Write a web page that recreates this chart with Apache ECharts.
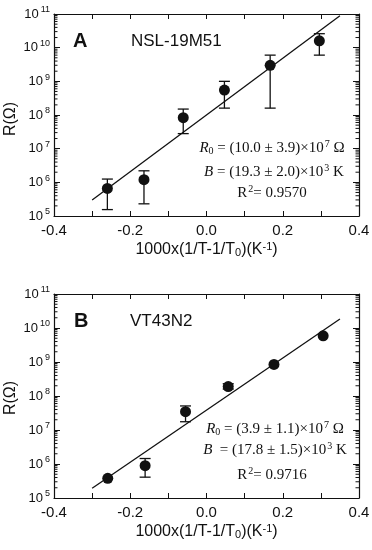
<!DOCTYPE html>
<html>
<head>
<meta charset="utf-8">
<script src="https://cdn.jsdelivr.net/npm/echarts@6/dist/echarts.min.js"></script>
<style>
html,body{margin:0;padding:0;background:#fff;}
#chart{width:372px;height:550px;}
</style>
</head>
<body>
<div id="chart"></div>
<script>
// ---- Data ----
const xA    = [-0.260, -0.164, -0.061, 0.047, 0.167, 0.296];
const rA    = [6.6e5, 1.2e6, 8.3e7, 5.5e8, 3.0e9, 1.6e10];
const lowA  = [1.55e5, 2.3e5, 2.8e7, 1.6e8, 1.6e8, 6.0e9];
const highA = [1.25e6, 2.2e6, 1.5e8, 1.0e9, 6.0e9, 2.6e10];
const fitAx = [-0.30, 0.35];
const fitAr = [3.0e5, 8.9e10];

const xB    = [-0.259, -0.161, -0.055, 0.057, 0.177, 0.306];
const rB    = [3.8e5, 8.9e5, 3.45e7, 1.9e8, 8.5e8, 5.9e9];
const lowB  = [null, 4.1e5, 1.75e7, 1.6e8, null, null];
const highB = [null, 1.45e6, 5.1e7, 2.3e8, null, null];
const fitBx = [-0.30, 0.35];
const fitBr = [1.94e5, 1.84e10];

const xTickLabels = ['-0.4', '-0.2', '0.0', '0.2', '0.4'];
const yExponents = [5, 6, 7, 8, 9, 10, 11];

// ---- Helpers ----
const SANS = 'Liberation Sans, Arial, sans-serif';
const SERIF = 'Liberation Serif, Times New Roman, serif';
const INK = '#111';

// minor log tick values (2..9 × 10^n) for the y axes
const minorLogValues = [];
for (let n = 5; n < 11; n++) for (let k = 2; k <= 9; k++) minorLogValues.push(k * Math.pow(10, n));

function xAxes(grid) {
  const base = {
    type: 'value', gridIndex: grid, min: -0.4, max: 0.4, interval: 0.2,
    axisLine: {show: true, onZero: false, lineStyle: {color: INK, width: 1.2}},
    axisTick: {show: true, inside: true, length: 5, lineStyle: {color: INK}},
    minorTick: {show: true, splitNumber: 2, length: 5, lineStyle: {color: INK}},
    splitLine: {show: false}, minorSplitLine: {show: false}
  };
  return [
    Object.assign({}, base, {
      position: 'bottom',
      axisLabel: {show: true, margin: 7, fontFamily: SANS, fontSize: 15, color: INK,
        formatter: v => xTickLabels[Math.round((v + 0.4) / 0.2)]},
      name: '1000x(1/T-1/T{sub|0})(K{sup|-1})',
      nameLocation: 'middle', nameGap: 25,
      nameTextStyle: {fontFamily: SANS, fontSize: 16, color: INK,
        rich: {sub: {fontFamily: SANS, fontSize: 11, color: INK, padding: [6, 0, 0, 0]},
               sup: {fontFamily: SANS, fontSize: 11, color: INK, padding: [0, 0, 7, 0]}}}
    }),
    Object.assign({}, base, {position: 'top', axisLabel: {show: false}})
  ];
}

function yAxes(grid) {
  const lineStyle = {color: INK, width: 1.2};
  const logBase = {
    type: 'log', logBase: 10, gridIndex: grid, min: 1e5, max: 1e11,
    splitLine: {show: false}, axisLine: {show: true, onZero: false, lineStyle},
    axisTick: {show: true, inside: true, length: 6, lineStyle: {color: INK}}
  };
  return [
    Object.assign({}, logBase, {
      position: 'left',
      axisLabel: {show: true, margin: 4, color: INK,
        formatter: v => '{b|10}{s|' + yExponents[Math.round(Math.log10(v)) - 5] + '}',
        rich: {b: {fontFamily: SANS, fontSize: 13, color: INK},
               s: {fontFamily: SANS, fontSize: 9, color: INK, padding: [0, 0, 8, 2]}}}
    }),
    Object.assign({}, logBase, {position: 'right', axisLabel: {show: false}})
  ];
}

// minor log ticks drawn at both grid edges through the axis scale
function minorTickSeries(xi, yi) {
  return {
    type: 'custom', xAxisIndex: xi, yAxisIndex: yi, z: 5, silent: true,
    renderItem: (params, api) => {
      const l = api.coord([api.value(0), api.value(2)]);
      const r = api.coord([api.value(1), api.value(2)]);
      const st = {stroke: INK, lineWidth: 1};
      return {type: 'group', children: [
        {type: 'line', shape: {x1: l[0], y1: l[1], x2: l[0] + 3.5, y2: l[1]}, style: st},
        {type: 'line', shape: {x1: r[0], y1: r[1], x2: r[0] - 3.5, y2: r[1]}, style: st}
      ]};
    },
    encode: {x: [0, 1], y: 2},
    data: minorLogValues.map(v => [-0.4, 0.4, v])
  };
}

function errorSeries(xs, lows, highs, xi, yi) {
  const data = [];
  xs.forEach((x, i) => { if (lows[i] != null) data.push([x, lows[i], highs[i]]); });
  return {
    type: 'custom', xAxisIndex: xi, yAxisIndex: yi, z: 3,
    renderItem: (params, api) => {
      const lo = api.coord([api.value(0), api.value(1)]);
      const hi = api.coord([api.value(0), api.value(2)]);
      const w = 5.5;
      const st = {stroke: INK, lineWidth: 1.3};
      return {type: 'group', children: [
        {type: 'line', shape: {x1: lo[0], y1: lo[1], x2: hi[0], y2: hi[1]}, style: st},
        {type: 'line', shape: {x1: lo[0] - w, y1: lo[1], x2: lo[0] + w, y2: lo[1]}, style: st},
        {type: 'line', shape: {x1: hi[0] - w, y1: hi[1], x2: hi[0] + w, y2: hi[1]}, style: st}
      ]};
    },
    encode: {x: 0, y: [1, 2]},
    data
  };
}

function panelSeries(xs, rs, lows, highs, fx, fr, xi, yi) {
  return [
    {type: 'line', xAxisIndex: xi, yAxisIndex: yi, showSymbol: false, symbol: 'none', z: 2,
     lineStyle: {color: INK, width: 1.3}, data: fx.map((x, i) => [x, fr[i]])},
    errorSeries(xs, lows, highs, xi, yi),
    {type: 'scatter', xAxisIndex: xi, yAxisIndex: yi, symbol: 'circle', symbolSize: 11, z: 4,
     itemStyle: {color: INK, opacity: 1}, data: xs.map((x, i) => [x, rs[i]])},
    minorTickSeries(xi, yi)
  ];
}

const serifRich = {
  i: {fontFamily: SERIF, fontSize: 15, fontStyle: 'italic', color: INK},
  n: {fontFamily: SERIF, fontSize: 15, color: INK},
  sub: {fontFamily: SERIF, fontSize: 10, color: INK, padding: [7, 0, 0, 0]},
  sup: {fontFamily: SERIF, fontSize: 10, color: INK, padding: [0, 0, 8, 1]}
};

function note(cx, top, text) {
  return {text, left: cx, top, textAlign: 'center', padding: 0, itemGap: 0,
    textStyle: {fontFamily: SERIF, fontSize: 15, fontWeight: 'normal', color: INK, rich: serifRich}};
}
function label(left, top, text, size, weight) {
  return {text, left, top, padding: 0,
    textStyle: {fontFamily: SANS, fontSize: size, fontWeight: weight, color: INK}};
}
function yName(cx, cy) {
  return {type: 'text', x: cx, y: cy, rotation: Math.PI / 2, silent: true,
    style: {text: 'R(Ω)', font: '16px ' + SANS, fill: INK, align: 'center', verticalAlign: 'middle'}};
}

const chart = echarts.init(document.getElementById('chart'), null, {renderer: 'canvas'});
chart.setOption({
  animation: false,
  backgroundColor: '#fff',
  title: [
    label(73, 31, 'A', 20, 'bold'),
    label(131, 33, 'NSL-19M51', 17, 'normal'),
    label(74, 311, 'B', 20, 'bold'),
    label(130, 313, 'VT43N2', 17, 'normal'),
    note(272, 139, '{i|R}{sub|0}{n| = (10.0 ± 3.9)×10}{sup|7}{n| Ω}'),
    note(274, 163, '{i|B}{n| = (19.3 ± 2.0)×10}{sup|3}{n| K}'),
    note(272, 184, '{n|R}{sup|2}{n|= 0.9570}'),
    note(275, 420, '{i|R}{sub|0}{n| = (3.9 ± 1.1)×10}{sup|7}{n| Ω}'),
    note(275, 441, '{i|B}{n|  = (17.8 ± 1.5)×10}{sup|3}{n| K}'),
    note(272, 466, '{n|R}{sup|2}{n|= 0.9716}')
  ],
  graphic: [yName(11, 119), yName(11, 398)],
  grid: [
    {left: 54, top: 14, width: 305, height: 202, containLabel: false, outerBoundsMode: 'none'},
    {left: 54, top: 294, width: 305, height: 204, containLabel: false, outerBoundsMode: 'none'}
  ],
  xAxis: [...xAxes(0), ...xAxes(1)],
  yAxis: [...yAxes(0), ...yAxes(1)],
  series: [
    ...panelSeries(xA, rA, lowA, highA, fitAx, fitAr, 0, 0),
    ...panelSeries(xB, rB, lowB, highB, fitBx, fitBr, 2, 2)
  ]
});
</script>
</body>
</html>
